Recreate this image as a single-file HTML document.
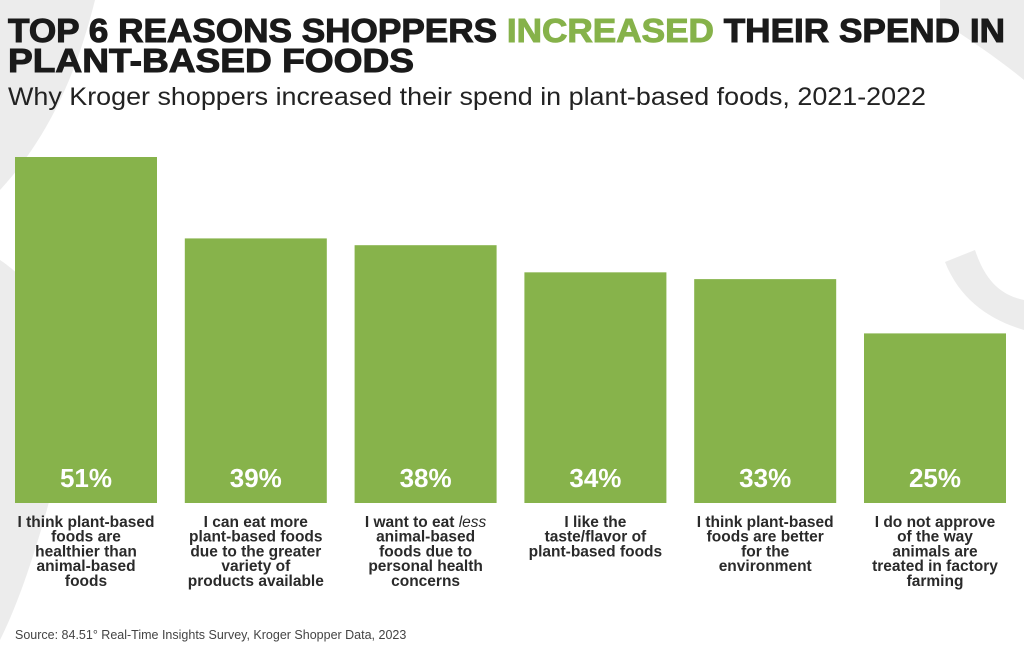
<!DOCTYPE html>
<html><head><meta charset="utf-8"><style>
body{margin:0;background:#fff}
svg{display:block}
</style></head><body>
<svg id="c" width="1024" height="655" viewBox="0 0 1024 655" xmlns="http://www.w3.org/2000/svg">
<g fill="#ececec">
  <path d="M0,0 L95,0 C80,60 55,130 0,190 Z"/>
  <path d="M0,260 C60,300 80,380 60,460 C40,540 20,600 0,640 Z"/>
  <path d="M940,0 L1024,0 L1024,80 C1000,60 970,40 940,20 Z"/>
  <path d="M945,262 L975,250 C985,280 1000,295 1024,300 L1024,330 C990,320 960,300 945,262 Z"/>
</g>
<text x="8" y="42" textLength="997" lengthAdjust="spacingAndGlyphs" font-family="Liberation Sans, sans-serif" font-weight="900" font-size="33" fill="#1a1a1a" stroke="#1a1a1a" stroke-width="1">TOP 6 REASONS SHOPPERS <tspan fill="#86b24a" stroke="#86b24a">INCREASED</tspan> THEIR SPEND IN</text>
<text x="8" y="72" textLength="406" lengthAdjust="spacingAndGlyphs" font-family="Liberation Sans, sans-serif" font-weight="900" font-size="33" fill="#1a1a1a" stroke="#1a1a1a" stroke-width="1">PLANT-BASED FOODS</text>
<text x="8" y="105" textLength="918" lengthAdjust="spacingAndGlyphs" font-family="Liberation Sans, sans-serif" font-size="25" fill="#222">Why Kroger shoppers increased their spend in plant-based foods, 2021-2022</text>
<g id="bars"></g>
<text x="15" y="639" font-family="Liberation Sans, sans-serif" font-size="12.5" fill="#444">Source: 84.51° Real-Time Insights Survey, Kroger Shopper Data, 2023</text>
</svg>
<script>
const categories = [
  ["I think plant-based","foods are","healthier than","animal-based","foods"],
  ["I can eat more","plant-based foods","due to the greater","variety of","products available"],
  ["I want to eat less","animal-based","foods due to","personal health","concerns"],
  ["I like the","taste/flavor of","plant-based foods"],
  ["I think plant-based","foods are better","for the","environment"],
  ["I do not approve","of the way","animals are","treated in factory","farming"]
];
const values = [51, 39, 38, 34, 33, 25];
const valueLabels = ["51%","39%","38%","34%","33%","25%"];

const NS = "http://www.w3.org/2000/svg";
const g = document.getElementById("bars");
const baseY = 503, pxPer = 346/51;
const y = v => baseY - v*pxPer;
const x = i => 15 + i*169.8;
const bw = 142;
values.forEach((v,i)=>{
  const r = document.createElementNS(NS,"rect");
  
  
  r.setAttribute("x", x(i)); r.setAttribute("y", y(v));
  r.setAttribute("width", bw); r.setAttribute("height", baseY - y(v));
  r.setAttribute("fill", "#87b34b");
  g.appendChild(r);
  const t = document.createElementNS(NS,"text");
  
  
  t.setAttribute("x", x(i)+bw/2); t.setAttribute("y", 487);
  t.setAttribute("text-anchor","middle");
  t.setAttribute("font-family","Liberation Sans, sans-serif");
  t.setAttribute("font-weight","bold"); t.setAttribute("font-size","26");
  t.setAttribute("fill","#fff");
  t.textContent = valueLabels[i];
  g.appendChild(t);
  const c = document.createElementNS(NS,"text");
  
  
  c.setAttribute("text-anchor","middle");
  c.setAttribute("font-family","Liberation Sans, sans-serif");
  c.setAttribute("font-weight","bold"); c.setAttribute("font-size","15.5");
  c.setAttribute("fill","#2a2a2a");
  categories[i].forEach((line,k)=>{
    const s = document.createElementNS(NS,"tspan");
    s.setAttribute("x", x(i)+bw/2); s.setAttribute("y", 527 + k*14.7);
    if (line.includes("less")) {
      s.appendChild(document.createTextNode("I want to eat "));
      const it = document.createElementNS(NS,"tspan");
      it.setAttribute("font-style","italic"); it.setAttribute("font-weight","normal");
      it.textContent = "less"; s.appendChild(it);
    } else s.textContent = line;
    c.appendChild(s);
  });
  g.appendChild(c);
});
</script>
</body></html>
